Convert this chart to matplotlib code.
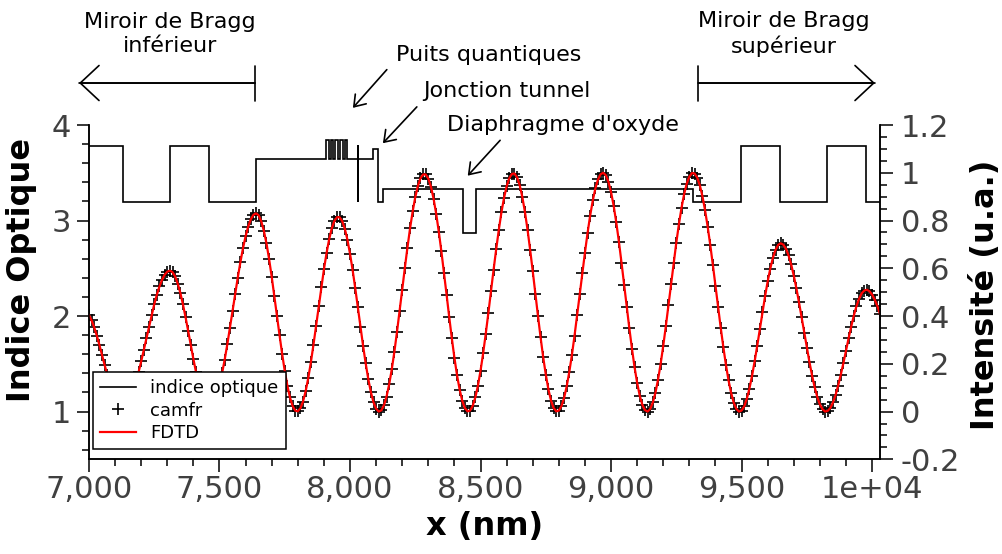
"""Profil d'indice optique et intensité du champ dans la cavité VCSEL (camfr vs FDTD).

Saves out.png (1003x554).
"""

import matplotlib
matplotlib.use("Agg")
import matplotlib.pyplot as plt
import numpy as np
from matplotlib.patches import ArrowStyle
from matplotlib.ticker import MultipleLocator

# --- index profile (layer edges in nm, index of each layer) ---
layer_edges = [7000, 7129, 7310, 7461, 7640, 7908, 7918, 7926, 7936, 7944, 7954,
               7962, 7972, 7980, 7990, 8029, 8030, 8031, 8089, 8106, 8128, 8432,
               8482, 9315, 9497, 9647, 9828, 9977, 10030]
layer_index = [3.78, 3.19, 3.78, 3.19, 3.64, 3.84, 3.64, 3.84, 3.64, 3.84, 3.64,
               3.84, 3.64, 3.84, 3.64, 3.79, 3.19, 3.64, 3.75, 3.19, 3.33, 2.87,
               3.33, 3.19, 3.78, 3.19, 3.78, 3.19]

# --- field intensity, sampled every 10 nm from 7000 to 10030 nm ---
x_nm = np.arange(7000, 10031, 10)
intensity = [
    .404, .382, .353, .318, .279, .237, .195, .155, .116, .083,   # 7000
    .056, .035, .024, .020, .025, .039, .060, .089, .125, .165,   # 7100
    .210, .258, .307, .356, .404, .449, .489, .524, .552, .573,   # 7200
    .586, .590, .584, .566, .536, .497, .449, .395, .338, .278,   # 7300
    .220, .166, .118, .077, .047, .027, .020, .025, .042, .071,   # 7400
    .111, .161, .218, .282, .351, .421, .492, .561, .625, .684,   # 7500
    .734, .775, .805, .824, .830, .822, .797, .757, .704, .639,   # 7600
    .565, .485, .402, .320, .242, .170, .109, .059, .024, .004,   # 7700
    .001, .014, .042, .085, .140, .206, .280, .359, .441, .520,   # 7800
    .595, .663, .721, .767, .798, .814, .814, .798, .766, .720,   # 7900
    .661, .593, .517, .437, .355, .276, .202, .136, .081, .039,   # 8000
    .012, .000, .005, .026, .063, .114, .177, .251, .334, .421,   # 8100
    .511, .601, .687, .767, .838, .898, .945, .977, .993, .993,   # 8200
    .976, .942, .892, .829, .754, .671, .581, .489, .396, .307,   # 8300
    .225, .152, .092, .045, .015, .001, .004, .024, .059, .108,   # 8400
    .171, .244, .326, .413, .504, .594, .680, .761, .834, .895,   # 8500
    .943, .977, .995, .997, .981, .948, .899, .837, .762, .678,   # 8600
    .588, .494, .401, .311, .228, .155, .093, .046, .015, .001,   # 8700
    .004, .023, .057, .105, .166, .237, .317, .403, .491, .580,   # 8800
    .666, .748, .821, .884, .935, .972, .994, 1.00, .990, .962,   # 8900
    .919, .862, .792, .712, .624, .532, .440, .349, .264, .186,   # 9000
    .120, .066, .028, .006, .000, .011, .038, .079, .134, .200,   # 9100
    .276, .359, .447, .536, .624, .708, .785, .854, .911, .955,   # 9200
    .984, .999, .997, .980, .948, .902, .844, .775, .698, .614,   # 9300
    .526, .438, .352, .271, .196, .131, .078, .037, .011, .000,   # 9400
    .004, .022, .053, .096, .149, .210, .276, .345, .416, .483,   # 9500
    .545, .599, .644, .677, .698, .705, .699, .682, .654, .616,   # 9600
    .569, .516, .457, .394, .330, .267, .207, .151, .102, .061,   # 9700
    .030, .010, .000, .003, .015, .038, .069, .109, .154, .203,   # 9800
    .255, .307, .356, .402, .441, .472, .495, .507, .510, .504,   # 9900
    .490, .469, .442, .410,                                       # 10000
]

x_ticks = [7000, 7500, 8000, 8500, 9000, 9500, 10000]
x_tick_labels = ["7,000", "7,500", "8,000", "8,500", "9,000", "9,500", "1e+04"]
n_ticks = [1, 2, 3, 4]
i_ticks = [-0.2, 0, 0.2, 0.4, 0.6, 0.8, 1.0, 1.2]
i_tick_labels = ["-0.2", "0", "0.2", "0.4", "0.6", "0.8", "1", "1.2"]

TICK_GREY = "#404040"


def style_axis(ax):
    ax.tick_params(which="major", direction="out", length=9, width=1.1,
                   labelsize=22, labelcolor=TICK_GREY, pad=4)
    ax.tick_params(which="minor", direction="out", length=5, width=1.1)
    for side in ("left", "right", "bottom"):
        ax.spines[side].set_linewidth(1.1)
    ax.spines["top"].set_visible(False)


def main():
    fig = plt.figure(figsize=(10.03, 5.54), dpi=100)
    ax = fig.add_axes([0.0887, 0.1709, 0.7886, 0.6034])
    ax2 = ax.twinx()

    idx = ax.stairs(layer_index, layer_edges, baseline=None, color="black",
                    linewidth=1.2, label="indice optique")
    cam, = ax2.plot(x_nm, intensity, "+", color="black", markersize=9,
                    markeredgewidth=1.2, label="camfr")
    fdtd, = ax2.plot(x_nm, intensity, "-", color="red", linewidth=1.6,
                     label="FDTD")

    ax.set_xlim(7000, 10030)
    ax.set_ylim(0.5, 4.0)
    ax2.set_ylim(-0.2, 1.2)

    ax.set_xticks(x_ticks)
    ax.set_xticklabels(x_tick_labels)
    ax.xaxis.set_minor_locator(MultipleLocator(100))
    ax.set_yticks(n_ticks)
    ax.set_yticklabels([str(v) for v in n_ticks])
    ax.yaxis.set_minor_locator(MultipleLocator(0.2))
    ax2.set_yticks(i_ticks)
    ax2.set_yticklabels(i_tick_labels)
    ax2.yaxis.set_minor_locator(MultipleLocator(0.05))
    style_axis(ax)
    style_axis(ax2)
    ax.tick_params(axis="x", pad=2)
    ax2.tick_params(axis="y", pad=6)

    ax.set_xlabel("x (nm)", fontsize=23, fontweight="bold")
    ax.xaxis.set_label_coords(0.5, -0.155)
    ax.set_ylabel("Indice Optique", fontsize=23, fontweight="bold")
    ax.yaxis.set_label_coords(-0.066, 0.566)
    ax2.set_ylabel("Intensité (u.a.)", fontsize=23, fontweight="bold")
    ax2.yaxis.set_label_coords(1.114, 0.491)

    leg = ax2.legend(handles=[idx, cam, fdtd], loc="lower left",
                     bbox_to_anchor=(0.0047, 0.03), borderaxespad=0,
                     fontsize=13, frameon=True, fancybox=False, framealpha=1,
                     edgecolor="black", borderpad=0.4, labelspacing=0.25,
                     handlelength=2.0, handletextpad=0.8)
    leg.get_frame().set_linewidth(1.1)

    # --- annotations (left-axis data coords) ---
    txt = dict(fontsize=16, color="black", annotation_clip=False)
    small_arrow = dict(arrowstyle=ArrowStyle("->", head_length=0.5, head_width=0.35),
                       mutation_scale=15, lw=1.2, color="black",
                       shrinkA=0, shrinkB=0)
    ax.annotate("Miroir de Bragg\ninférieur", xy=(7310, 4.95), ha="center",
                va="center", linespacing=1.25, **txt)
    ax.annotate("Miroir de Bragg\nsupérieur", xy=(9660, 4.95), ha="center",
                va="center", linespacing=1.25, **txt)
    for bar_x, tip_x in ((7636, 6962), (9334, 10011)):
        ax.annotate("", xy=(tip_x, 4.44), xytext=(bar_x, 4.44),
                    arrowprops=dict(arrowstyle=ArrowStyle("->", head_length=0.45, head_width=0.42),
                                    mutation_scale=30, lw=1.2, color="black",
                                    shrinkA=0, shrinkB=0),
                    annotation_clip=False)
        ax.annotate("", xy=(tip_x, 4.44), xytext=(bar_x, 4.44),
                    arrowprops=dict(arrowstyle=ArrowStyle("]-", widthA=0.42, lengthA=0),
                                    mutation_scale=30, lw=1.2, color="black",
                                    shrinkA=0, shrinkB=0),
                    annotation_clip=False)

    ax.annotate("", xy=(8011, 4.18), xytext=(8141, 4.58), arrowprops=small_arrow,
                annotation_clip=False)
    ax.annotate("Puits quantiques", xy=(8176, 4.73), ha="left", va="center", **txt)
    ax.annotate("", xy=(8126, 3.81), xytext=(8256, 4.19), arrowprops=small_arrow,
                annotation_clip=False)
    ax.annotate("Jonction tunnel", xy=(8280, 4.36), ha="left", va="center", **txt)
    ax.annotate("", xy=(8451, 3.47), xytext=(8575, 3.84), arrowprops=small_arrow,
                annotation_clip=False)
    ax.annotate("Diaphragme d'oxyde", xy=(8370, 4.0), ha="left", va="center", **txt)

    fig.savefig("out.png", dpi=100)


if __name__ == "__main__":
    main()
